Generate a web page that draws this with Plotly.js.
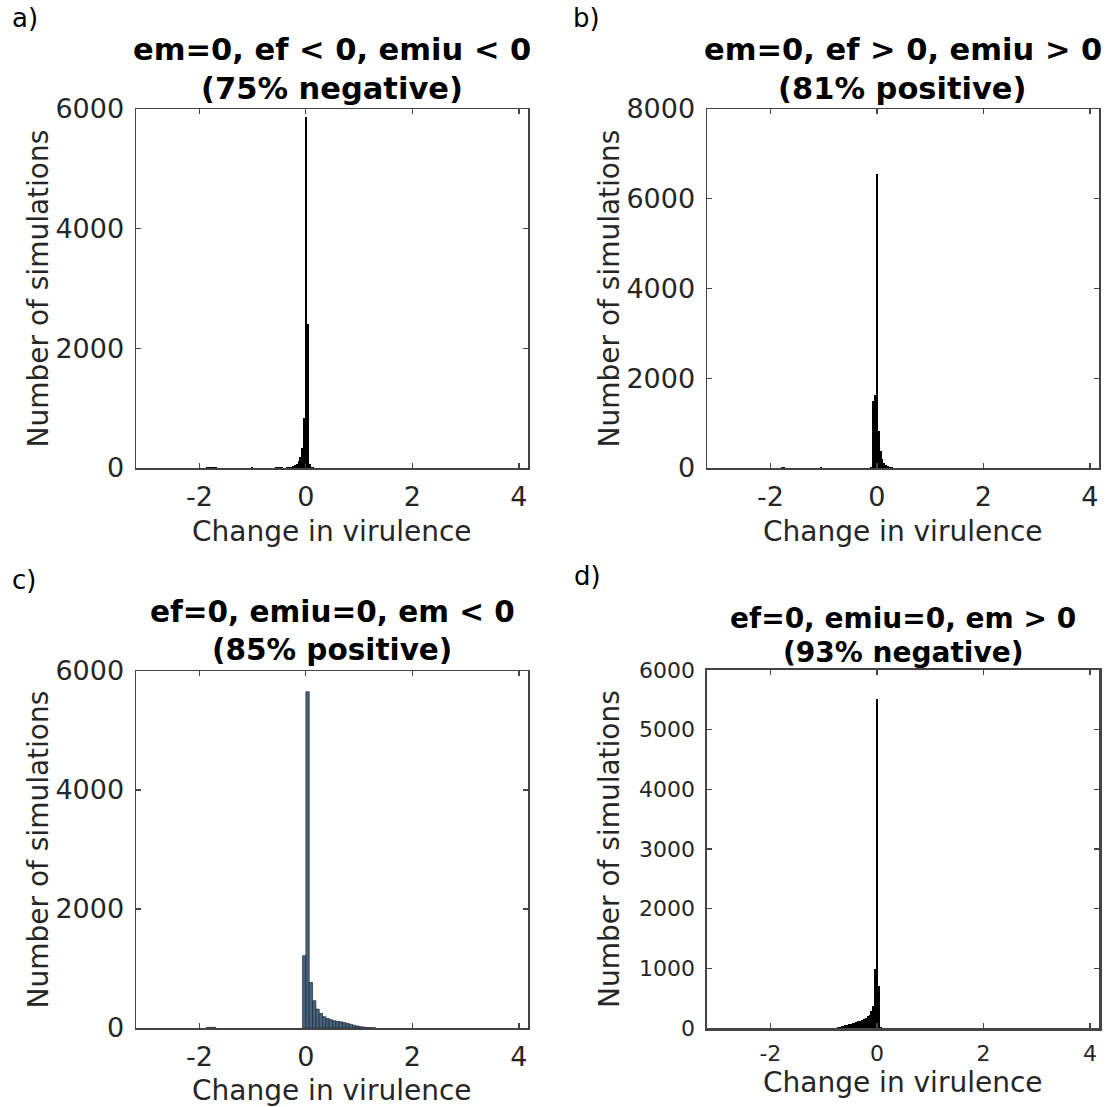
<!DOCTYPE html>
<html>
<head>
<meta charset="utf-8">
<script src="https://cdn.plot.ly/plotly-3.0.1.min.js"></script>
<style>body{margin:0;padding:0;background:#fff}#chart{width:1112px;height:1107px}</style>
</head>
<body>
<div id="chart"></div>
<script>
// ---------- DATA ----------
const xTickVals = [-2, 0, 2, 4];
const xTickText = ["-2", "0", "2", "4"];

// panel a: em=0, ef<0, emiu<0
const aBinWidth = 0.035;
const aCenters = [-1.855, -1.82, -1.785, -1.75, -1.715, -1.68, -1.645, -1.61, -1.015, -0.56, -0.525, -0.49, -0.455,
  -0.35, -0.315, -0.28, -0.245, -0.21, -0.175, -0.14, -0.105, -0.07, -0.035, 0, 0.035, 0.07, 0.105, 0.14, 0.21, 0.245];
const aCounts = [12, 15, 18, 14, 12, 10, 8, 6, 10, 10, 14, 12, 10,
  12, 18, 25, 35, 50, 70, 110, 190, 340, 830, 5860, 2410, 70, 25, 10, 8, 8];

// panel b: em=0, ef>0, emiu>0
const bBinWidth = 0.035;
const bCenters = [-1.82, -1.785, -1.75, -1.715, -1.05, -0.14, -0.105, -0.07, -0.035, 0, 0.035, 0.07, 0.105, 0.14, 0.175, 0.21, 0.245, 0.28, 0.315];
const bCounts = [10, 14, 12, 8, 12, 10, 25, 1500, 1620, 6560, 830, 380, 210, 120, 70, 40, 22, 12, 6];

// panel c: ef=0, emiu=0, em<0
const cBinWidth = 0.0625;
const cCenters = [-1.84375, -1.78125, -1.71875, -0.03125, 0.03125, 0.09375, 0.15625, 0.21875, 0.28125, 0.34375, 0.40625,
  0.46875, 0.53125, 0.59375, 0.65625, 0.71875, 0.78125, 0.84375, 0.90625, 0.96875, 1.03125, 1.09375, 1.15625, 1.21875, 1.28125];
const cCounts = [8, 12, 8, 1215, 5650, 765, 458, 318, 245, 190, 161,
  139, 122, 112, 104, 92, 78, 62, 46, 33, 22, 14, 8, 5, 3];

// panel d: ef=0, emiu=0, em>0
const dBinWidth = 0.035;
const dCenters = [-0.77, -0.735, -0.70, -0.665, -0.63, -0.595, -0.56, -0.525, -0.49, -0.455, -0.42, -0.385, -0.35, -0.315,
  -0.28, -0.245, -0.21, -0.175, -0.14, -0.105, -0.07, -0.035, 0, 0.035, 0.07];
const dCounts = [5, 10, 18, 28, 38, 48, 58, 66, 74, 82, 90, 100, 112, 125,
  140, 155, 172, 195, 225, 280, 370, 990, 5520, 700, 20];

const titles = [
  "em=0, ef < 0, emiu < 0<br>(75% negative)",
  "em=0, ef > 0, emiu > 0<br>(81% positive)",
  "ef=0, emiu=0, em < 0<br>(85% positive)",
  "ef=0, emiu=0, em > 0<br>(93% negative)"
];
const panelLabels = ["a)", "b)", "c)", "d)"];
const yRanges = [[0, 6000], [0, 8000], [0, 6000], [0, 6000]];
const yTickVals = [[0, 2000, 4000, 6000], [0, 2000, 4000, 6000, 8000], [0, 2000, 4000, 6000], [0, 1000, 2000, 3000, 4000, 5000, 6000]];
const xLabel = "Change in virulence";
const yLabel = "Number of simulations";

// ---------- LAYOUT ----------
const W = 1112, H = 1107;
const px = x => x / W;
const py = y => 1 - y / H;
const FONT = "DejaVu Sans, Arial, sans-serif";
const TXT = "#262626";

// plot boxes in pixels [left, top, right, bottom]
const boxes = [
  [136, 109, 528, 468],
  [707, 109, 1099, 468],
  [136, 671, 528, 1028],
  [707, 670, 1099, 1028]
];

function bar(centers, counts, width, idx, fill, line, lw) {
  return {
    type: "bar", x: centers, y: counts, width: width,
    xaxis: idx === 0 ? "x" : "x" + (idx + 1),
    yaxis: idx === 0 ? "y" : "y" + (idx + 1),
    marker: {color: fill, line: {color: line, width: lw}},
    hoverinfo: "x+y", showlegend: false
  };
}

const data = [
  bar(aCenters, aCounts, aBinWidth, 0, "#000000", "#000000", 0),
  bar(bCenters, bCounts, bBinWidth, 1, "#000000", "#000000", 0),
  bar(cCenters, cCounts, cBinWidth, 2, "#46647f", "#1c2530", 0.7),
  bar(dCenters, dCounts, dBinWidth, 3, "#000000", "#000000", 0)
];

const layout = {
  width: W, height: H,
  margin: {l: 0, r: 0, t: 0, b: 0},
  paper_bgcolor: "#ffffff", plot_bgcolor: "#ffffff",
  font: {family: FONT, color: TXT},
  bargap: 0,
  annotations: [],
  showlegend: false
};

const tickFont = [27, 27, 27, 22];
const titleFont = [30.5, 30.5, 29.5, 28];
const axisLineW = [1.5, 1.5, 1.5, 2.5];
const titleY = [[50, 88], [50, 88], [612, 650], [618, 652]];
const labelPos = [[10, 18], [571, 18], [10, 580], [572, 576]];
const yTitleX = [38, 609, 38, 609];
const xTitleY = [531, 531, 1090, 1082];

boxes.forEach((b, i) => {
  const s = i === 0 ? "" : String(i + 1);
  const [l, t, r, bt] = b;
  layout["xaxis" + s] = {
    domain: [px(l), px(r)], range: [-3.19, 4.17],
    anchor: "y" + s,
    tickvals: xTickVals, ticktext: xTickText,
    ticks: "inside", ticklen: 5, tickwidth: 1.2, tickcolor: "#444",
    ticklabelstandoff: 4,
    showline: true, linecolor: "#444", linewidth: axisLineW[i], mirror: "ticks",
    showgrid: false, zeroline: false,
    tickfont: {size: tickFont[i], family: FONT, color: TXT},
    fixedrange: true
  };
  layout["yaxis" + s] = {
    domain: [py(bt), py(t)], range: yRanges[i],
    anchor: "x" + s,
    tickvals: yTickVals[i],
    ticks: "inside", ticklen: 5, tickwidth: 1.2, tickcolor: "#444",
    ticklabelstandoff: 5,
    showline: true, linecolor: "#444", linewidth: axisLineW[i], mirror: "ticks",
    showgrid: false, zeroline: false,
    tickfont: {size: tickFont[i], family: FONT, color: TXT},
    fixedrange: true
  };
  const cx = (l + r) / 2, cy = (t + bt) / 2;
  const lines = titles[i].split("<br>");
  lines.forEach((ln, k) => {
    layout.annotations.push({
      text: "<b>" + ln + "</b>", xref: "paper", yref: "paper",
      x: px(cx), y: py(titleY[i][k]), xanchor: "center", yanchor: "middle",
      showarrow: false, font: {size: titleFont[i], family: FONT, color: "#000"}
    });
  });
  layout.annotations.push({
    text: panelLabels[i], xref: "paper", yref: "paper",
    x: px(labelPos[i][0]), y: py(labelPos[i][1]), xanchor: "left", yanchor: "middle",
    showarrow: false, font: {size: 26, family: FONT, color: "#000"}
  });
  layout.annotations.push({
    text: yLabel, xref: "paper", yref: "paper",
    x: px(yTitleX[i]), y: py(cy), xanchor: "center", yanchor: "middle", textangle: -90,
    showarrow: false, font: {size: 28, family: FONT, color: TXT}
  });
  layout.annotations.push({
    text: xLabel, xref: "paper", yref: "paper",
    x: px(cx), y: py(xTitleY[i]), xanchor: "center", yanchor: "middle",
    showarrow: false, font: {size: 28, family: FONT, color: TXT}
  });
});

Plotly.newPlot("chart", data, layout, {staticPlot: true, displayModeBar: false});
</script>
</body>
</html>
